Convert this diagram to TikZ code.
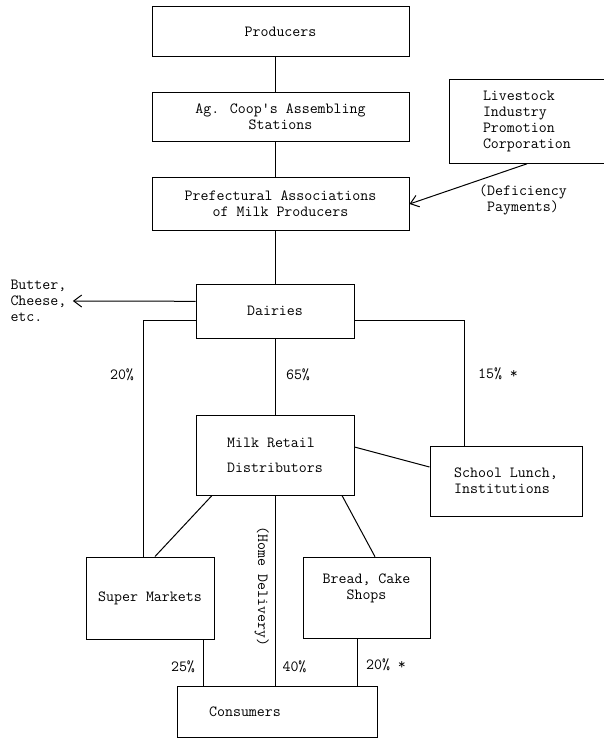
\documentclass[tikz,border=0pt]{standalone}
\usetikzlibrary{arrows.meta,positioning}
\begin{document}
\begin{tikzpicture}[x=1pt,y=-1pt,line width=1pt,
    font=\ttfamily\fontsize{15.5}{16}\selectfont,
    >={Straight Barb[length=8pt,width=12pt]},
    every node/.style={inner sep=0pt},
    box/.style={draw,minimum width=#1},
    box/.default=158pt]
  \useasboundingbox (0,0) rectangle (603,738);
  % main column
  \node[box=257pt,minimum height=50pt] (prod) at (280.5,31.7) {Producers};
  \node[box=257pt,minimum height=49pt,align=center] (coop) at (280.5,116.7) {Ag. Coop\textquotesingle s Assembling\\Stations};
  \node[box=257pt,minimum height=52pt,align=center] (pref) at (280.5,204) {Prefectural Associations\\of Milk Producers};
  \node[box=156pt,minimum height=84pt] (lipc) at (527,121.3) {};
  \node[align=left,anchor=west] (lipc-t) at ([xshift=34pt]lipc.west) {Livestock\\Industry\\Promotion\\Corporation};
  \node[align=center] (defp) at (523,200) {(Deficiency\\Payments)};
  \node[box,minimum height=54pt] (dair) at (275,311.3) {Dairies};
  \node[align=left,anchor=west] (butr) at (10,301) {Butter,\\Cheese,\\etc.};
  \node[box,minimum height=80pt,align=left] (milk) at (275,455) {Milk Retail\\[9pt]Distributors};
  \node[box=152pt,minimum height=70pt,align=left] (schl) at (506,481) {School Lunch,\\Institutions};
  \node[box=128pt,minimum height=82pt] (smkt) at (150,598) {Super Markets};
  \node[box=127pt,minimum height=81pt] (bred) at (366.5,597.7) {};
  \node[align=center] (bred-t) at ([yshift=9pt]bred.center) {Bread, Cake\\Shops};
  \node[box=200pt,minimum height=51pt] (cons) at (277,711.5) {};
  \node (cons-t) at ([xshift=-32pt]cons.center) {Consumers};

  % flows
  \draw (prod.south -| dair.north) -- (coop.north -| dair.north);
  \draw (coop.south -| dair.north) -- (pref.north -| dair.north);
  \draw (pref.south -| dair.north) -- (dair.north);
  \draw[->] (lipc.south) -- (pref.east);
  \draw[->] ([yshift=10pt]dair.west) -- ([xshift=6pt]butr.east);
  \draw ([yshift=-9.5pt]dair.west) -| ([xshift=-7pt]smkt.north);
  \draw ([yshift=-9.5pt]dair.east) -| ([xshift=-42pt]schl.north);
  \draw (dair.south) -- (milk.north);
  \draw ([yshift=8pt]milk.east) -- ([yshift=14pt]schl.west);
  \draw ([xshift=-63pt]milk.south) -- ([xshift=5pt]smkt.north);
  \draw ([xshift=67pt]milk.south) -- ([xshift=8.5pt]bred.north);
  \draw (milk.south) -- (milk.south |- cons.north);
  \draw ([xshift=53pt]smkt.south) -- ([xshift=53pt]smkt.south |- cons.north);
  \draw ([xshift=-9pt]bred.south) -- ([xshift=-9pt]bred.south |- cons.north);

  % shares
  \node (p20) at (122,375) {20\%};
  \node (p65) at (298,375) {65\%};
  \node (p15) at (498,374) {15\% *};
  \node[rotate=-90] (hdel) at (261.7,586.5) {(Home Delivery)};
  \node (p25) at (183,666.7) {25\%};
  \node (p40) at (294.5,666.7) {40\%};
  \node (p20b) at (386,665) {20\% *};
\end{tikzpicture}
\end{document}
